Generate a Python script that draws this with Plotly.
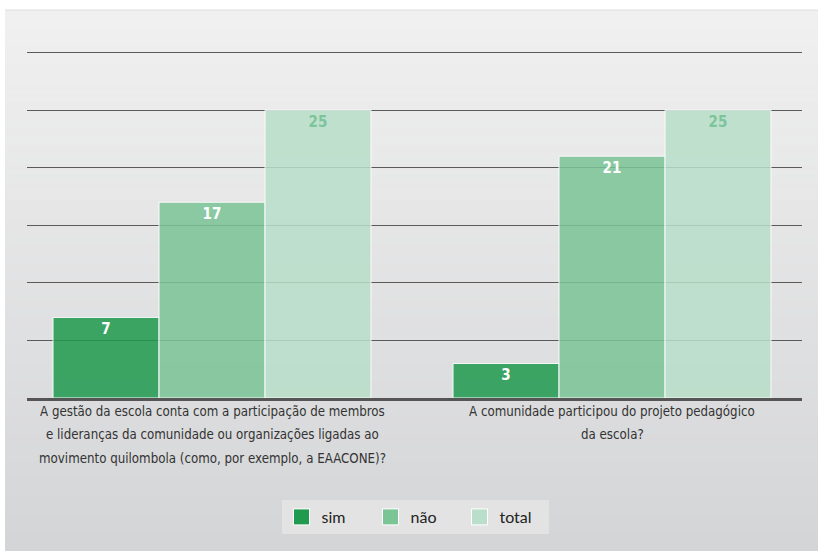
import plotly.graph_objects as go

categories = [
    "A gestão da escola conta com a participação de membros<br>e lideranças da comunidade ou organizações ligadas ao<br>movimento quilombola (como, por exemplo, a EAACONE)?",
    "A comunidade participou do projeto pedagógico<br>da escola?",
]
series_names = ["sim", "não", "total"]
sim_values = [7, 3]
nao_values = [17, 21]
total_values = [25, 25]

colors = {"sim": "#1f9a4e", "não": "#7bc496", "total": "#b9dfca"}
text_colors = {"sim": "#ffffff", "não": "#ffffff", "total": "#7cc49a"}
COND = "DejaVu Sans Condensed, Liberation Sans Narrow, Roboto"

W, H = 818, 551
L, R, T, B = 27, 16, 41, 153
plot_w = W - L - R
plot_h = H - T - B


def px_to_paper(x, y):
    return (x - L) / plot_w, (H - B - y) / plot_h


fig = go.Figure()

for name, vals in zip(series_names, [sim_values, nao_values, total_values]):
    fig.add_trace(go.Bar(
        x=categories,
        y=vals,
        name=name,
        showlegend=False,
        marker={"color": colors[name], "opacity": 0.85, "line": {"color": "#ffffff", "width": 1}},
        texttemplate="%{y}",
        textposition="inside",
        insidetextanchor="end",
        textangle=0,
        textfont={"family": COND, "size": 15, "color": text_colors[name], "weight": "bold"},
        hoverinfo="skip",
    ))

# legend proxies (bigger square swatches)
for name in series_names:
    fig.add_trace(go.Scatter(
        x=[None], y=[None], mode="markers", name=name,
        marker={"symbol": "square", "size": 16, "color": colors[name], "line": {"color": "#ffffff", "width": 1}},
    ))

# background gradient in bands
shapes = []
top_c = (240, 240, 240)
bot_c = (212, 213, 215)
n = 60
y0px, y1px = 10, H
for i in range(n):
    a = y0px + (y1px - y0px) * i / n
    b = y0px + (y1px - y0px) * (i + 1) / n + 0.5
    t = i / (n - 1)
    c = tuple(round(top_c[k] + (bot_c[k] - top_c[k]) * t) for k in range(3))
    xa, ya = px_to_paper(5, a)
    xb, yb = px_to_paper(W + 2, b)
    shapes.append(dict(type="rect", xref="paper", yref="paper", x0=xa, x1=xb, y0=yb, y1=ya,
                       fillcolor=f"rgb{c}", line={"width": 0}, layer="below"))
xa, ya = px_to_paper(5, 10)
xb, _ = px_to_paper(W + 2, 10)
shapes.append(dict(type="line", xref="paper", yref="paper", x0=xa, x1=xb, y0=ya, y1=ya,
                   line={"color": "#dcdcdc", "width": 1}, layer="below"))

# category labels, one annotation per line for wider line spacing
annotations = []
for cat in categories:
    for i, line in enumerate(cat.split("<br>")):
        _, ya = px_to_paper(0, 411 + 23.5 * i)
        annotations.append(dict(
            x=cat, xref="x", y=ya, yref="paper", text=line, showarrow=False,
            xanchor="center", yanchor="middle",
            font={"family": COND, "size": 13.2, "color": "#333333"},
        ))

lx, ly = px_to_paper(415, 517)

fig.update_layout(
    width=W, height=H,
    margin={"l": L, "r": R, "t": T, "b": B},
    paper_bgcolor="#ffffff",
    plot_bgcolor="rgba(0,0,0,0)",
    barmode="group",
    bargap=0.205,
    bargroupgap=0,
    shapes=shapes,
    annotations=annotations,
    xaxis={
        "range": [-0.4625, 1.475],
        "showline": True, "linecolor": "#555555", "linewidth": 2.5,
        "ticks": "", "showgrid": False, "showticklabels": False,
    },
    yaxis={
        "range": [0, 31],
        "dtick": 5,
        "showticklabels": False,
        "showgrid": True, "gridcolor": "#5a5a5a", "gridwidth": 1.2,
        "zeroline": False,
    },
    legend={
        "orientation": "h", "x": lx, "xanchor": "center", "y": ly, "yanchor": "middle",
        "bgcolor": "#e3e3e3", "font": {"family": "Lato", "size": 16, "color": "#222222"},
        "entrywidth": 44, "itemclick": False,
    },
    font={"family": COND},
)

fig.write_html("out.html", config={"displayModeBar": False},
               post_script="document.body.style.margin='0';")
